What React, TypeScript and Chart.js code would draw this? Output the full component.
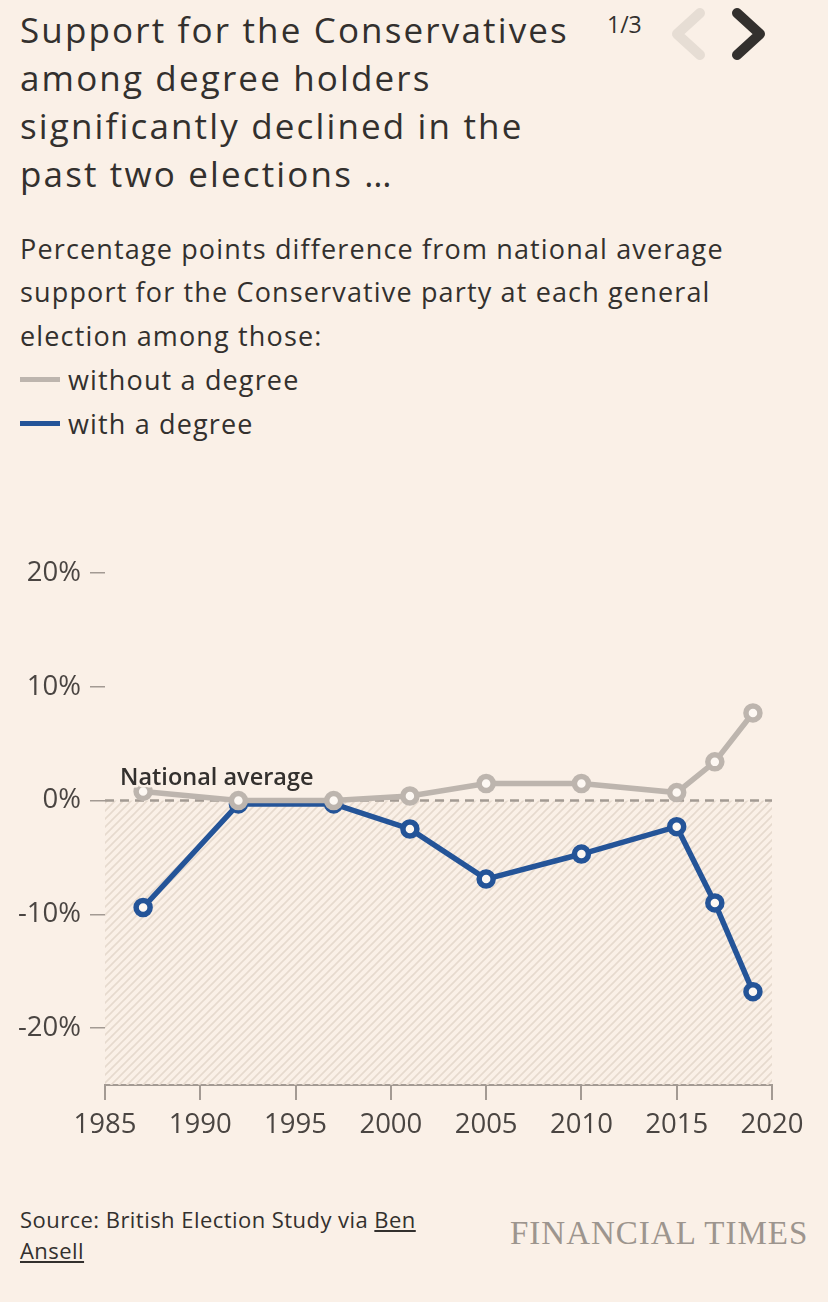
import React, { useEffect, useRef } from "react";
import { Chart, registerables } from "chart.js";

Chart.register(...registerables);

const years = [1987, 1992, 1997, 2001, 2005, 2010, 2015, 2017, 2019];
const withoutDegree = [0.8, 0, 0, 0.4, 1.5, 1.5, 0.7, 3.4, 7.7];
const withDegree = [-9.4, -0.3, -0.3, -2.5, -6.9, -4.7, -2.3, -9.0, -16.8];
const xTicks = [1985, 1990, 1995, 2000, 2005, 2010, 2015, 2020];
const yTicks = [-20, -10, 0, 10, 20];
const seriesNames = ["without a degree", "with a degree"];
const refLabel = "National average";

const BG = "#faf0e7";
const TEXT = "#33302e";
const GREY = "#bdb5ae";
const BLUE = "#245498";
const AXIS = "#a39a93";
const FONT = "'Open Sans', 'Noto Sans', sans-serif";

export default function App() {
  const ref = useRef<HTMLCanvasElement | null>(null);

  useEffect(() => {
    document.body.style.margin = "0";
    document.body.style.background = BG;
    const canvas = ref.current;
    if (!canvas) return;

    const tile = document.createElement("canvas");
    tile.width = 8;
    tile.height = 8;
    const tctx = tile.getContext("2d")!;
    tctx.strokeStyle = "#e6dace";
    tctx.lineWidth = 1.7;
    tctx.beginPath();
    tctx.moveTo(0, 8);
    tctx.lineTo(8, 0);
    tctx.moveTo(-2, 2);
    tctx.lineTo(2, -2);
    tctx.moveTo(6, 10);
    tctx.lineTo(10, 6);
    tctx.stroke();

    const hatchPlugin = {
      id: "hatch",
      beforeDatasetsDraw(chart: any) {
        const { ctx, chartArea, scales } = chart;
        const y0 = scales.y.getPixelForValue(0);
        const pattern = ctx.createPattern(tile, "repeat");
        ctx.save();
        ctx.fillStyle = pattern;
        ctx.fillRect(chartArea.left, y0, chartArea.right - chartArea.left, chartArea.bottom - y0);
        ctx.setLineDash([9, 6]);
        ctx.strokeStyle = AXIS;
        ctx.lineWidth = 2.5;
        ctx.beginPath();
        ctx.moveTo(chartArea.left, y0);
        ctx.lineTo(chartArea.right, y0);
        ctx.stroke();
        ctx.restore();
      },
      afterDatasetsDraw(chart: any) {
        const { ctx, scales } = chart;
        const x = scales.x.getPixelForValue(xTicks[0]) + 15;
        const y = scales.y.getPixelForValue(0) - 22;
        ctx.save();
        ctx.font = `600 23.5px ${FONT}`;
        ctx.textBaseline = "middle";
        ctx.textAlign = "left";
        ctx.lineJoin = "round";
        ctx.strokeStyle = BG;
        ctx.lineWidth = 5;
        ctx.strokeText(refLabel, x, y);
        ctx.fillStyle = TEXT;
        ctx.fillText(refLabel, x, y);
        ctx.restore();
      },
    };

    const chart = new Chart(canvas, {
      type: "line",
      data: {
        datasets: [
          {
            label: seriesNames[0],
            data: years.map((yr, i) => ({ x: yr, y: withoutDegree[i] })),
            borderColor: GREY,
            borderWidth: 5.5,
            pointRadius: 7,
            pointBorderWidth: 5.5,
            pointBackgroundColor: "#fdf8f3",
            pointBorderColor: GREY,
            order: 0,
          },
          {
            label: seriesNames[1],
            data: years.map((yr, i) => ({ x: yr, y: withDegree[i] })),
            borderColor: BLUE,
            borderWidth: 5.5,
            pointRadius: 7,
            pointBorderWidth: 5.5,
            pointBackgroundColor: "#fdf8f3",
            pointBorderColor: BLUE,
            order: 1,
          },
        ],
      },
      options: {
        animation: false,
        responsive: false,
        maintainAspectRatio: false,
        layout: { padding: { top: 33, right: 56, left: 0, bottom: 0 } },
        plugins: { legend: { display: false }, tooltip: { enabled: false } },
        scales: {
          x: {
            type: "linear",
            min: 1985,
            max: 2020,
            afterBuildTicks: (s: any) => {
              s.ticks = xTicks.map((v) => ({ value: v }));
            },
            afterFit: (s: any) => {
              s.height = 75;
            },
            grid: { drawOnChartArea: false, drawTicks: true, tickLength: 15, color: AXIS, lineWidth: 2 },
            border: { display: true, color: AXIS, width: 2 },
            ticks: {
              padding: 9,
              autoSkip: false,
              maxRotation: 0,
              color: "#4a4542",
              font: { family: FONT, size: 27.5 },
              callback: (v: any) => String(v),
            },
          },
          y: {
            min: -25,
            max: 20,
            afterBuildTicks: (s: any) => {
              s.ticks = yTicks.map((v) => ({ value: v }));
            },
            afterFit: (s: any) => {
              s.width = 105;
            },
            grid: { drawOnChartArea: false, drawTicks: true, tickLength: 15, color: AXIS, lineWidth: 1.5 },
            border: { display: false },
            ticks: {
              padding: 9,
              color: "#4a4542",
              font: { family: FONT, size: 27.5 },
              callback: (v: any) => `${v}%`,
            },
          },
        },
      },
      plugins: [hatchPlugin],
    });
    return () => chart.destroy();
  }, []);

  const base: React.CSSProperties = { position: "absolute", fontFamily: FONT, color: TEXT, margin: 0, whiteSpace: "nowrap" };

  return (
    <div style={{ position: "relative", width: 828, height: 1302, background: BG, overflow: "hidden" }}>
      <div style={{ ...base, left: 20, top: 6, fontSize: 35, lineHeight: "48px", letterSpacing: "2.15px" }}>
        Support for the Conservatives
        <br />
        among degree holders
        <br />
        significantly declined in the
        <br />
        past two elections …
      </div>
      <div style={{ ...base, left: 607, top: 9, fontSize: 23, lineHeight: "30px" }}>1/3</div>
      <svg style={{ position: "absolute", left: 660, top: 0 }} width={120} height={70}>
        <polyline points="40,13 17,34 40,55" fill="none" stroke="#e6ddd4" strokeWidth={10} strokeLinecap="round" strokeLinejoin="round" />
        <polyline points="77,13 100,34 77,55" fill="none" stroke="#33302e" strokeWidth={10} strokeLinecap="round" strokeLinejoin="round" />
      </svg>
      <div style={{ ...base, left: 20, top: 226.5, fontSize: 27, lineHeight: "43.75px", letterSpacing: "1.15px" }}>
        Percentage points difference from national average
        <br />
        support for the Conservative party at each general
        <br />
        election among those:
        <div style={{ display: "flex", alignItems: "center" }}>
          <span style={{ display: "inline-block", width: 40, height: 5, background: GREY, marginRight: 8 }} />
          {seriesNames[0]}
        </div>
        <div style={{ display: "flex", alignItems: "center" }}>
          <span style={{ display: "inline-block", width: 40, height: 5, background: BLUE, marginRight: 8 }} />
          {seriesNames[1]}
        </div>
      </div>
      <canvas ref={ref} width={828} height={620} style={{ position: "absolute", left: 0, top: 540, width: 828, height: 620 }} />
      <div style={{ ...base, left: 20, top: 1204, fontSize: 22, lineHeight: "31px", letterSpacing: "0.45px" }}>
        Source: British Election Study via <u>Ben</u>
        <br />
        <u>Ansell</u>
      </div>
      <div
        style={{
          ...base,
          left: 510,
          top: 1217,
          fontFamily: "'Liberation Serif', 'DejaVu Serif', serif",
          fontSize: 33,
          lineHeight: "33px",
          letterSpacing: "1px",
          color: "#9d958e",
        }}
      >
        FINANCIAL TIMES
      </div>
    </div>
  );
}
